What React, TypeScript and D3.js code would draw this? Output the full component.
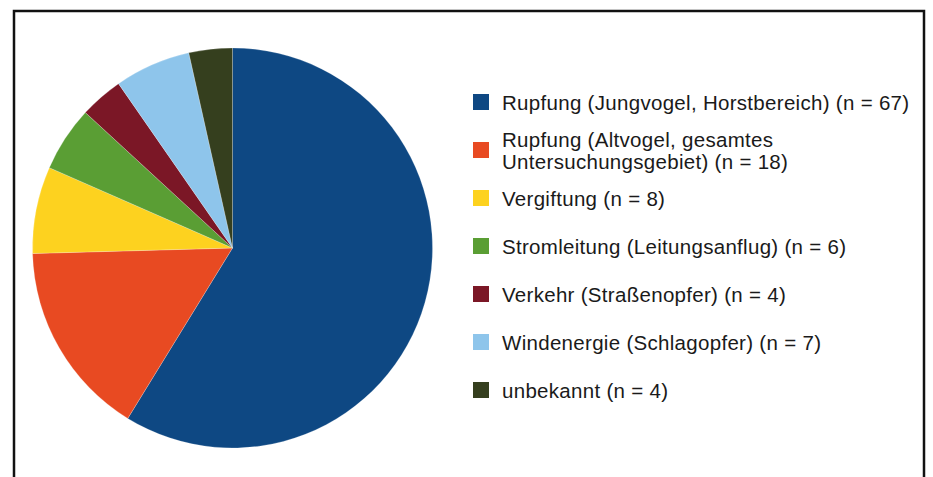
import * as d3 from "d3";
import { useEffect, useRef } from "react";

// Verlustursachen, Werte
const categories = [
  ["Rupfung (Jungvogel, Horstbereich) (n = 67)"],
  ["Rupfung (Altvogel, gesamtes", "Untersuchungsgebiet) (n = 18)"],
  ["Vergiftung (n = 8)"],
  ["Stromleitung (Leitungsanflug) (n = 6)"],
  ["Verkehr (Straßenopfer) (n = 4)"],
  ["Windenergie (Schlagopfer) (n = 7)"],
  ["unbekannt (n = 4)"],
];
const counts = [67, 18, 8, 6, 4, 7, 4];
const colors = ["#0e4883", "#e84a22", "#fdd21f", "#5a9e34", "#7b1726", "#8ec5eb", "#353f1e"];

const width = 933;
const height = 477;

function PieChart() {
  const svgRef = useRef<SVGSVGElement>(null);

  useEffect(() => {
    const svg = d3.select(svgRef.current);
    svg.selectAll("*").remove();

    // frame, open at the bottom
    svg
      .append("path")
      .attr("d", `M14,${height + 5} V11 H924 V${height + 5}`)
      .attr("fill", "none")
      .attr("stroke", "#111")
      .attr("stroke-width", 2.5);

    const cx = 232.5;
    const cy = 248;
    const radius = 200;

    const pie = d3
      .pie<number>()
      .sort(null)
      .value((d) => d);
    const arc = d3.arc<d3.PieArcDatum<number>>().innerRadius(0).outerRadius(radius);

    svg
      .append("g")
      .attr("transform", `translate(${cx},${cy})`)
      .selectAll("path")
      .data(pie(counts))
      .join("path")
      .attr("d", arc)
      .attr("fill", (d, i) => colors[i])
      .attr("stroke", "rgba(255,255,255,0.35)")
      .attr("stroke-width", 0.6);

    const legend = svg.append("g").attr("transform", "translate(473,94)");
    const y = d3
      .scaleBand()
      .domain(categories.map((c, i) => String(i)))
      .range([0, 48 * categories.length])
      .paddingInner(0);

    const items = legend
      .selectAll("g")
      .data(categories)
      .join("g")
      .attr("transform", (d, i) => `translate(0,${y(String(i))})`);

    items
      .append("rect")
      .attr("width", 16)
      .attr("height", 16)
      .attr("fill", (d, i) => colors[i]);

    items
      .append("text")
      .attr("x", 29)
      .attr("font-family", "'Liberation Sans', Arial, sans-serif")
      .attr("font-size", 20.5)
      .attr("letter-spacing", 0.3)
      .attr("fill", "#1a1a1a")
      .selectAll("tspan")
      .data((d) => d.map((line, j) => ({ line, j, n: d.length })))
      .join("tspan")
      .attr("x", 29)
      .attr("y", (t) => 16 + (t.j - (t.n - 1) / 2) * 22)
      .text((t) => t.line);
  }, []);

  return (
    <svg
      ref={svgRef}
      width={width}
      height={height}
      style={{ position: "absolute", left: 0, top: 0, background: "#fff" }}
    />
  );
}

export default function App() {
  return <PieChart />;
}
